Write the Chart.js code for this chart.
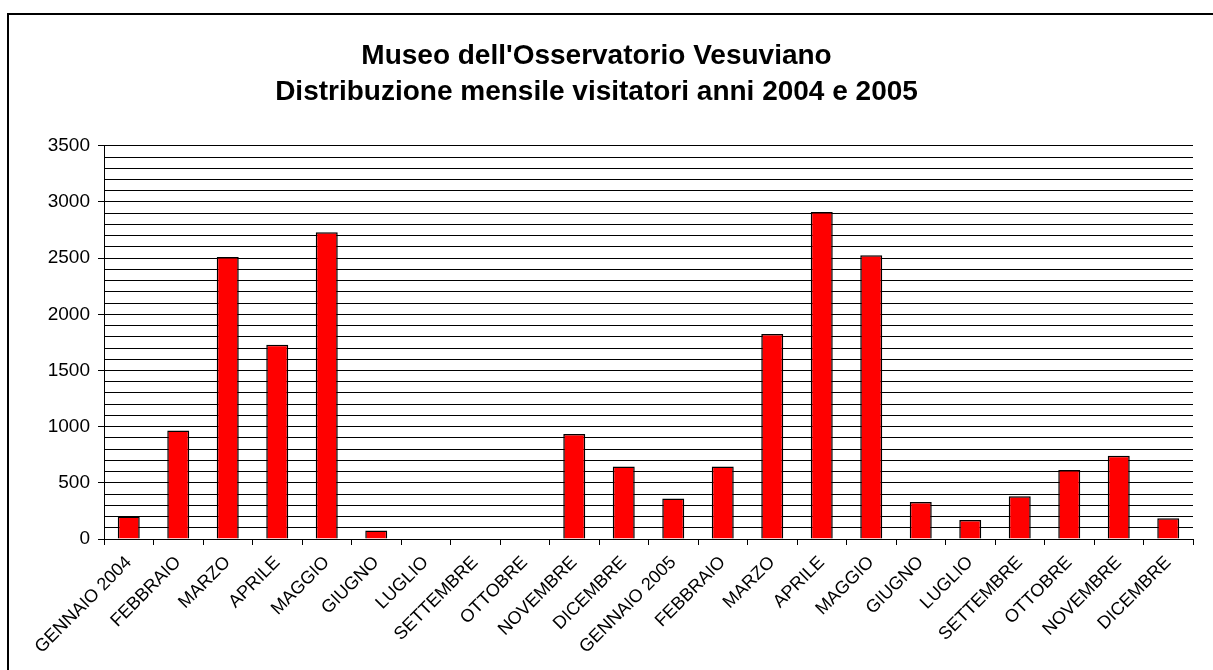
<!DOCTYPE html>
<html>
<head>
<meta charset="utf-8">
<script src="https://cdn.jsdelivr.net/npm/chart.js@4"></script>
<style>
  body { margin: 0; background: #fff; overflow: hidden; }
  #wrap { position: relative; width: 1213px; height: 670px; }
  #frame { position: absolute; left: 7px; top: 13px; width: 1300px; height: 800px; border: 2px solid #000; }
  canvas { position: absolute; left: 0; top: 0; }
</style>
</head>
<body>
<div id="wrap">
  <div id="frame"></div>
  <canvas id="chart" width="1213" height="670"></canvas>
</div>
<script>
const months = [
  "GENNAIO 2004", "FEBBRAIO", "MARZO", "APRILE", "MAGGIO", "GIUGNO", "LUGLIO",
  "SETTEMBRE", "OTTOBRE", "NOVEMBRE", "DICEMBRE",
  "GENNAIO 2005", "FEBBRAIO", "MARZO", "APRILE", "MAGGIO", "GIUGNO", "LUGLIO",
  "SETTEMBRE", "OTTOBRE", "NOVEMBRE", "DICEMBRE"
];
const visitors = [
  200, 965, 2510, 1730, 2730, 75, 0, 0, 0, 935, 645,
  360, 645, 1825, 2910, 2525, 330, 170, 380, 615, 740, 185
];
const titleLines = [
  "Museo dell'Osservatorio Vesuviano",
  "Distribuzione mensile visitatori anni 2004 e 2005"
];

const font = "'Liberation Sans', Arial, Helvetica, sans-serif";

new Chart(document.getElementById("chart"), {
  type: "bar",
  data: {
    labels: months,
    datasets: [{
      data: visitors,
      backgroundColor: "#ff0000",
      borderColor: "#000",
      borderWidth: 1.5,
      categoryPercentage: 1,
      barPercentage: 0.444
    }]
  },
  options: {
    responsive: false,
    animation: false,
    layout: { padding: { top: 38, right: 20, bottom: 0, left: 0 } },
    plugins: {
      legend: { display: false },
      tooltip: { enabled: false },
      title: {
        display: true,
        text: titleLines,
        color: "#000",
        font: { family: font, size: 28, weight: "bold", lineHeight: 1.3 },
        padding: { top: 0, bottom: 35 }
      }
    },
    scales: {
      x: {
        offset: true,
        grid: { display: true, drawOnChartArea: false, drawTicks: true, tickLength: 6, color: "#000", offset: true },
        border: { display: true, color: "#000", width: 1 },
        ticks: {
          color: "#000",
          font: { family: font, size: 18 },
          maxRotation: 45,
          minRotation: 45,
          autoSkip: false,
          padding: 7
        },
        afterFit: s => { s.height = 131; }
      },
      y: {
        min: 0,
        max: 3500,
        grid: {
          color: "#000",
          lineWidth: 1,
          tickLength: 6,
          tickColor: ctx => (ctx.tick && ctx.tick.value % 500 === 0) ? "#000" : "rgba(0,0,0,0)"
        },
        border: { display: true, color: "#000", width: 1 },
        ticks: {
          stepSize: 100,
          color: "#000",
          font: { family: font, size: 19 },
          padding: 8,
          autoSkip: false,
          callback: v => (v % 500 === 0 ? v : "")
        },
        afterFit: s => { s.width = 104; }
      }
    }
  }
});
</script>
</body>
</html>
